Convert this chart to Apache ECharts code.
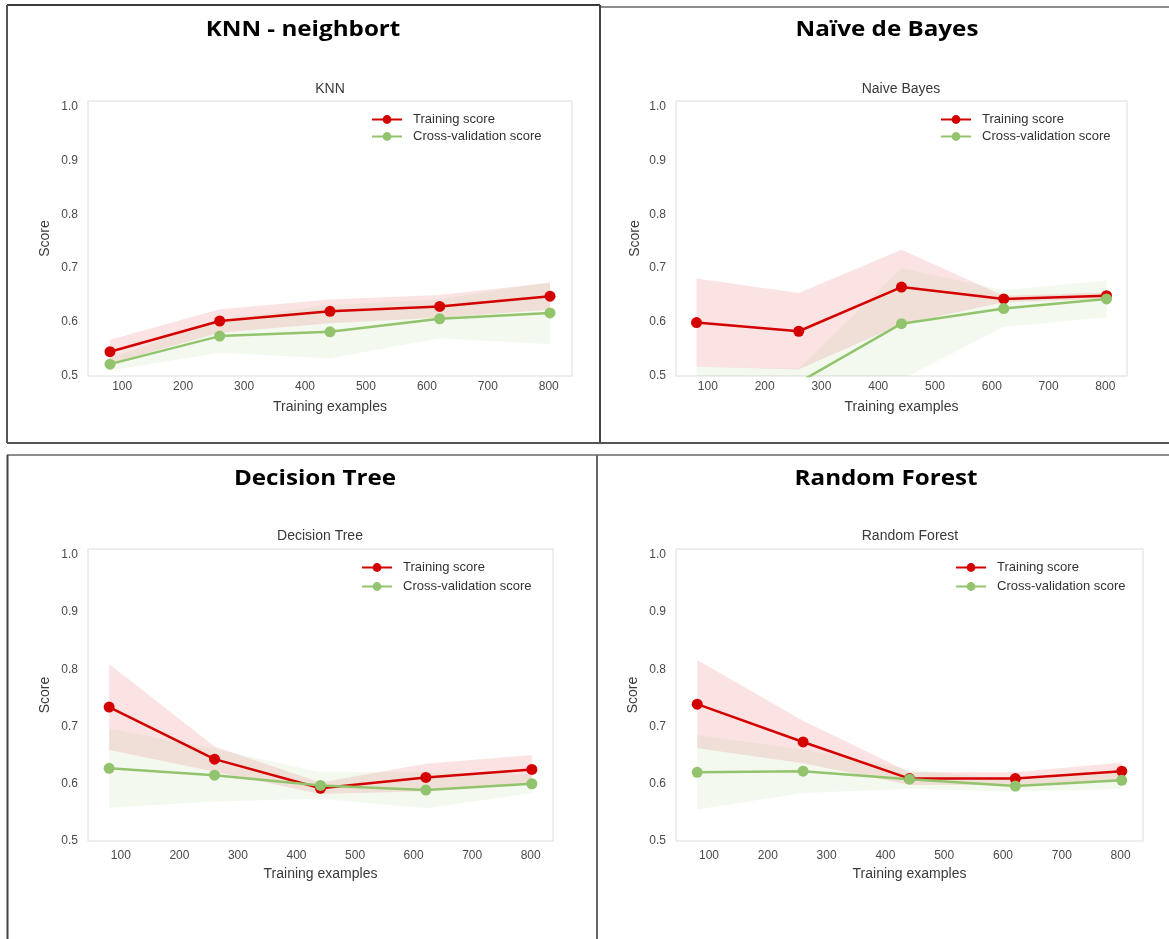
<!DOCTYPE html>
<html>
<head>
<meta charset="utf-8">
<script src="https://cdn.jsdelivr.net/npm/echarts@6/dist/echarts.min.js"></script>
<style>
html,body{margin:0;padding:0;background:#fff;}
#c{width:1169px;height:939px;}
</style>
</head>
<body>
<div id="c"></div>
<script>
// ---------- data ----------
const trainSizes = [80, 260, 441, 621, 802];
const seriesNames = ['Training score', 'Cross-validation score'];
const panelTitles = ['KNN - neighbort', 'Naïve de Bayes', 'Decision Tree', 'Random Forest'];
const plotTitles = ['KNN', 'Naive Bayes', 'Decision Tree', 'Random Forest'];
const xAxisName = 'Training examples';
const yAxisName = 'Score';

const knnTrainMean = [0.545, 0.602, 0.620, 0.629, 0.648];
const knnTrainStd  = [0.022, 0.022, 0.022, 0.021, 0.025];
const knnCvMean    = [0.522, 0.574, 0.582, 0.606, 0.617];
const knnCvStd     = [0.012, 0.031, 0.049, 0.036, 0.058];

const nbTrainMean  = [0.599, 0.583, 0.665, 0.643, 0.649];
const nbTrainStd   = [0.082, 0.071, 0.069, 0.006, 0.006];
const nbCvMean     = [0.470, 0.488, 0.597, 0.625, 0.643];
const nbCvStd      = [0.047, 0.026, 0.103, 0.034, 0.034];

const dtTrainMean  = [0.734, 0.643, 0.592, 0.611, 0.625];
const dtTrainStd   = [0.075, 0.022, 0.010, 0.024, 0.025];
const dtCvMean     = [0.627, 0.615, 0.597, 0.589, 0.600];
const dtCvStd      = [0.069, 0.046, 0.023, 0.032, 0.016];

const rfTrainMean  = [0.739, 0.673, 0.609, 0.609, 0.622];
const rfTrainStd   = [0.077, 0.037, 0.011, 0.011, 0.015];
const rfCvMean     = [0.620, 0.622, 0.608, 0.596, 0.606];
const rfCvStd      = [0.065, 0.038, 0.017, 0.010, 0.015];

const yMin = 0.5, yMax = 1.01;
const xMin = 43.9, xMax = 838.1;

// ---------- layout / style ----------
const models = [
  {trM: knnTrainMean, trS: knnTrainStd, cvM: knnCvMean, cvS: knnCvStd},
  {trM: nbTrainMean,  trS: nbTrainStd,  cvM: nbCvMean,  cvS: nbCvStd},
  {trM: dtTrainMean,  trS: dtTrainStd,  cvM: dtCvMean,  cvS: dtCvStd},
  {trM: rfTrainMean,  trS: rfTrainStd,  cvM: rfCvMean,  cvS: rfCvStd}
];
const layout = [
  {grid: {left: 88,  top: 101, width: 484, height: 275}, title: [303, 30], sub: [330, 89],  legend: {left: 366, top: 108, itemGap: 4}, xGap: 24, yGap: 36, xMargin: 5},
  {grid: {left: 676, top: 101, width: 451, height: 275}, title: [887, 30], sub: [901, 89],  legend: {left: 935, top: 108, itemGap: 4}, xGap: 24, yGap: 34, xMargin: 5},
  {grid: {left: 88,  top: 549, width: 465, height: 292}, title: [315, 479], sub: [320, 536], legend: {left: 356, top: 556, itemGap: 6}, xGap: 26, yGap: 36, xMargin: 9},
  {grid: {left: 676, top: 549, width: 467, height: 292}, title: [886, 479], sub: [910, 536], legend: {left: 950, top: 556, itemGap: 6}, xGap: 26, yGap: 36, xMargin: 9}
];
const RED = '#d40000';
const GREEN = '#92c46e';
const RED_FILL = 'rgba(220,0,0,0.11)';
const GREEN_FILL = 'rgba(146,196,110,0.1)';
const AX_FONT = 'Liberation Sans';

function bandSeries(i, mean, std, fill) {
  const lo = mean.map((m, k) => m - std[k]);
  const hi = mean.map((m, k) => m + std[k]);
  return {
    type: 'custom', xAxisIndex: i, yAxisIndex: i, silent: true, z: 1,
    data: trainSizes.map((x, k) => [x, lo[k], hi[k]]),
    encode: {x: 0, y: [1, 2]},
    renderItem: function (params, api) {
      if (params.dataIndex !== 0) return null;
      const pts = [];
      for (let k = 0; k < trainSizes.length; k++) pts.push(api.coord([trainSizes[k], hi[k]]));
      for (let k = trainSizes.length - 1; k >= 0; k--) pts.push(api.coord([trainSizes[k], lo[k]]));
      const cs = params.coordSys;
      return {
        type: 'polygon',
        shape: {points: pts},
        style: {fill: fill, stroke: null},
        clipPath: {type: 'rect', shape: {x: cs.x, y: cs.y, width: cs.width, height: cs.height}}
      };
    }
  };
}

function lineSeries(i, name, mean, color) {
  return {
    type: 'line', name: name, xAxisIndex: i, yAxisIndex: i, z: 3,
    data: trainSizes.map((x, k) => [x, mean[k]]),
    symbol: 'circle', symbolSize: 11, showSymbol: true, clip: true,
    lineStyle: {width: 2.5, color: color}, itemStyle: {color: color},
    emphasis: {disabled: true}
  };
}

const grids = [], xAxes = [], yAxes = [], series = [], legends = [], graphics = [];
layout.forEach((L, i) => {
  const m = models[i];
  grids.push(Object.assign({show: true, borderColor: '#dcdcdc', borderWidth: 1, backgroundColor: '#fff'}, L.grid));
  xAxes.push({
    type: 'value', gridIndex: i, min: xMin, max: xMax, minInterval: 100, maxInterval: 100,
    name: xAxisName, nameLocation: 'middle', nameGap: L.xGap,
    nameTextStyle: {fontFamily: AX_FONT, fontSize: 14, color: '#3a3a3a'},
    axisLine: {show: false}, axisTick: {show: false}, splitLine: {show: false},
    axisLabel: {
      showMinLabel: false, showMaxLabel: false, margin: L.xMargin,
      fontFamily: AX_FONT, fontSize: 12, color: '#4a4a4a',
      formatter: v => (Math.abs(v / 100 - Math.round(v / 100)) < 1e-6 ? String(Math.round(v)) : '')
    }
  });
  yAxes.push({
    type: 'value', gridIndex: i, min: yMin, max: yMax, interval: 0.1,
    name: yAxisName, nameLocation: 'middle', nameGap: L.yGap, nameRotate: 90,
    nameTextStyle: {fontFamily: AX_FONT, fontSize: 14, color: '#3a3a3a'},
    axisLine: {show: false}, axisTick: {show: false}, splitLine: {show: false},
    axisLabel: {
      showMaxLabel: false, margin: 10,
      fontFamily: AX_FONT, fontSize: 12, color: '#4a4a4a',
      formatter: v => (v > 1.005 ? '' : v.toFixed(1))
    }
  });
  series.push(bandSeries(i, m.trM, m.trS, RED_FILL));
  series.push(bandSeries(i, m.cvM, m.cvS, GREEN_FILL));
  series.push(lineSeries(i, seriesNames[0], m.trM, RED));
  series.push(lineSeries(i, seriesNames[1], m.cvM, GREEN));
  legends.push({
    data: seriesNames, orient: 'vertical', left: L.legend.left, top: L.legend.top,
    itemWidth: 30, itemHeight: 11, itemGap: L.legend.itemGap, selectedMode: false,
    textStyle: {fontFamily: AX_FONT, fontSize: 13, color: '#333', padding: [0, 0, 0, 6]}
  });
  graphics.push({
    type: 'text', x: L.title[0], y: L.title[1], z: 10, scaleX: 1.1,
    style: {text: panelTitles[i], font: 'bold 22px "Open Sans"', fill: '#000', textAlign: 'center', textVerticalAlign: 'middle'}
  });
  graphics.push({
    type: 'text', x: L.sub[0], y: L.sub[1], z: 10,
    style: {text: plotTitles[i], font: '14px "Liberation Sans"', fill: '#3a3a3a', textAlign: 'center', textVerticalAlign: 'middle'}
  });
});

// document table borders
const borderLines = [
  [7, 5, 600, 5, '#3a3a3a', 2],
  [600, 7, 1169, 7, '#666', 1.5],
  [7, 5, 7, 443, '#555', 2],
  [600, 5, 600, 443, '#444', 2],
  [7, 443, 1169, 443, '#555', 2],
  [7, 455, 1169, 455, '#666', 1.5],
  [7.5, 455, 7.5, 939, '#444', 2],
  [597, 455, 597, 939, '#666', 2]
];
borderLines.forEach(b => graphics.push({
  type: 'line', z: 20, silent: true,
  shape: {x1: b[0], y1: b[1], x2: b[2], y2: b[3]},
  style: {stroke: b[4], lineWidth: b[5]}
}));

const chart = echarts.init(document.getElementById('c'));
chart.setOption({
  animation: false,
  backgroundColor: '#fff',
  grid: grids, xAxis: xAxes, yAxis: yAxes,
  legend: legends, series: series, graphic: graphics
});
</script>
</body>
</html>
